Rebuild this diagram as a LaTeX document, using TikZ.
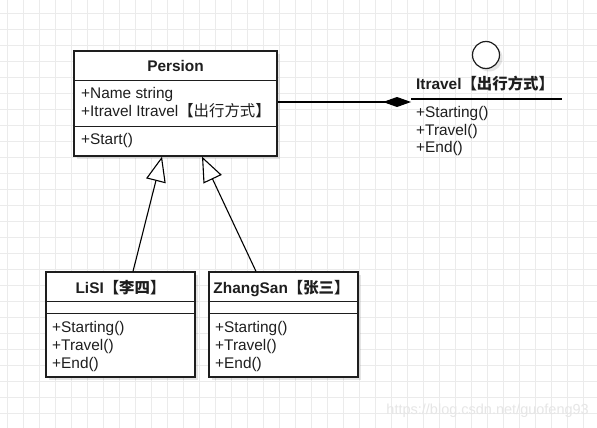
\documentclass[tikz,border=0pt]{standalone}
\usepackage{fontspec}
\setmainfont{Liberation Sans}
\newfontfamily\cjk{Noto Sans CJK SC}
\usetikzlibrary{arrows.meta,shadows}
\definecolor{gridc}{HTML}{EBEBEB}
\definecolor{linec}{HTML}{1E1E1E}
\definecolor{wmark}{HTML}{E6E6E6}
\tikzset{
  gridline/.style={draw=gridc, line width=0.9pt},
  shad/.style={drop shadow={shadow xshift=3pt, shadow yshift=-3pt, fill=black, opacity=0.10}},
  classbox/.style={draw=linec, line width=1.2pt, fill=white, inner sep=0, shad},
  sepline/.style={draw=linec, line width=1.2pt},
  txt/.style={inner sep=0, anchor=west, text height=11pt, text depth=3pt, text=linec,
              font=\fontsize{15.4}{18}\selectfont},
  ttl/.style={inner sep=0, text height=11pt, text depth=3pt, text=linec,
              font=\bfseries\fontsize{15.4}{18}\selectfont},
  conn/.style={draw=black, line width=1.1pt},
  inherit/.style={conn, -{Triangle[open, length=25pt, width=20pt, fill=white]}},
  compose/.style={conn, -{Diamond[length=28pt, width=10pt]}},
}
\begin{document}
\begin{tikzpicture}[x=1pt,y=-1pt]
\useasboundingbox (0,0) rectangle (597,428);
\fill[white] (0,0) rectangle (597,428);
% grid
\foreach \x in {7,23,...,599} \draw[gridline] (\x,0) -- (\x,428);
\foreach \y in {13,29,...,429} \draw[gridline] (0,\y) -- (597,\y);

% watermark
\node[inner sep=0, anchor=east, text=wmark, font=\fontsize{14.5}{17}\selectfont] (wm) at (589,411) {https://blog.csdn.net/guofeng93};

% Persion
\node[classbox, minimum width=203pt, minimum height=105pt] (persion) at (175.5,103.5) {};
\draw[sepline] ([yshift=-30pt]persion.north west) -- ([yshift=-30pt]persion.north east);
\draw[sepline] ([yshift=-76pt]persion.north west) -- ([yshift=-76pt]persion.north east);
\node[ttl] (ptitle) at (175.5,67.5) {Persion};
\node[txt] (pa1) at (81,94.5) {+Name string};
\node[txt] (pa2) at (81,112.5) {+Itravel Itravel{\cjk【出行方式】}};
\node[txt] (pm1) at (81,140.5) {+Start()};

% LiSI
\node[classbox, minimum width=149pt, minimum height=105pt] (lisi) at (120.5,324.5) {};
\draw[sepline] ([yshift=-30pt]lisi.north west) -- ([yshift=-30pt]lisi.north east);
\draw[sepline] ([yshift=-42pt]lisi.north west) -- ([yshift=-42pt]lisi.north east);
\node[ttl] (ltitle) at (120.5,289.5) {LiSI{\cjk【李四】}};
\node[txt] (lm1) at (52,328.5) {+Starting()};
\node[txt] (lm2) at (52,346.5) {+Travel()};
\node[txt] (lm3) at (52,364) {+End()};

% ZhangSan
\node[classbox, minimum width=149pt, minimum height=105pt] (zhang) at (283.5,324.5) {};
\draw[sepline] ([yshift=-30pt]zhang.north west) -- ([yshift=-30pt]zhang.north east);
\draw[sepline] ([yshift=-42pt]zhang.north west) -- ([yshift=-42pt]zhang.north east);
\node[ttl] (ztitle) at (281.5,289.5) {ZhangSan{\cjk【张三】}};
\node[txt] (zm1) at (215,328.5) {+Starting()};
\node[txt] (zm2) at (215,346.5) {+Travel()};
\node[txt] (zm3) at (215,364) {+End()};

% Itravel interface
\node[circle, draw=linec, line width=1.2pt, fill=white, minimum size=27pt, inner sep=0, shad] (icircle) at (486,55) {};
\node[ttl, anchor=west] (ititle) at (416,85.5) {Itravel{\cjk【出行方式】}};
\coordinate (itl) at (411,99);
\coordinate (itr) at (562,99);
\draw[conn, line width=1.3pt] (itl) -- (itr);
\node[txt] (im1) at (416,113.5) {+Starting()};
\node[txt] (im2) at (416,131) {+Travel()};
\node[txt] (im3) at (416,148.5) {+End()};
\coordinate (itconn) at (411,102);

% connectors
\draw[compose] ([yshift=1.5pt]persion.east) -- (itconn);
\draw[inherit] ([xshift=12.5pt]lisi.north) -- ([xshift=-13.5pt]persion.south);
\draw[inherit] ([xshift=-27.5pt]zhang.north) -- ([xshift=26.5pt]persion.south);
\end{tikzpicture}
\end{document}
